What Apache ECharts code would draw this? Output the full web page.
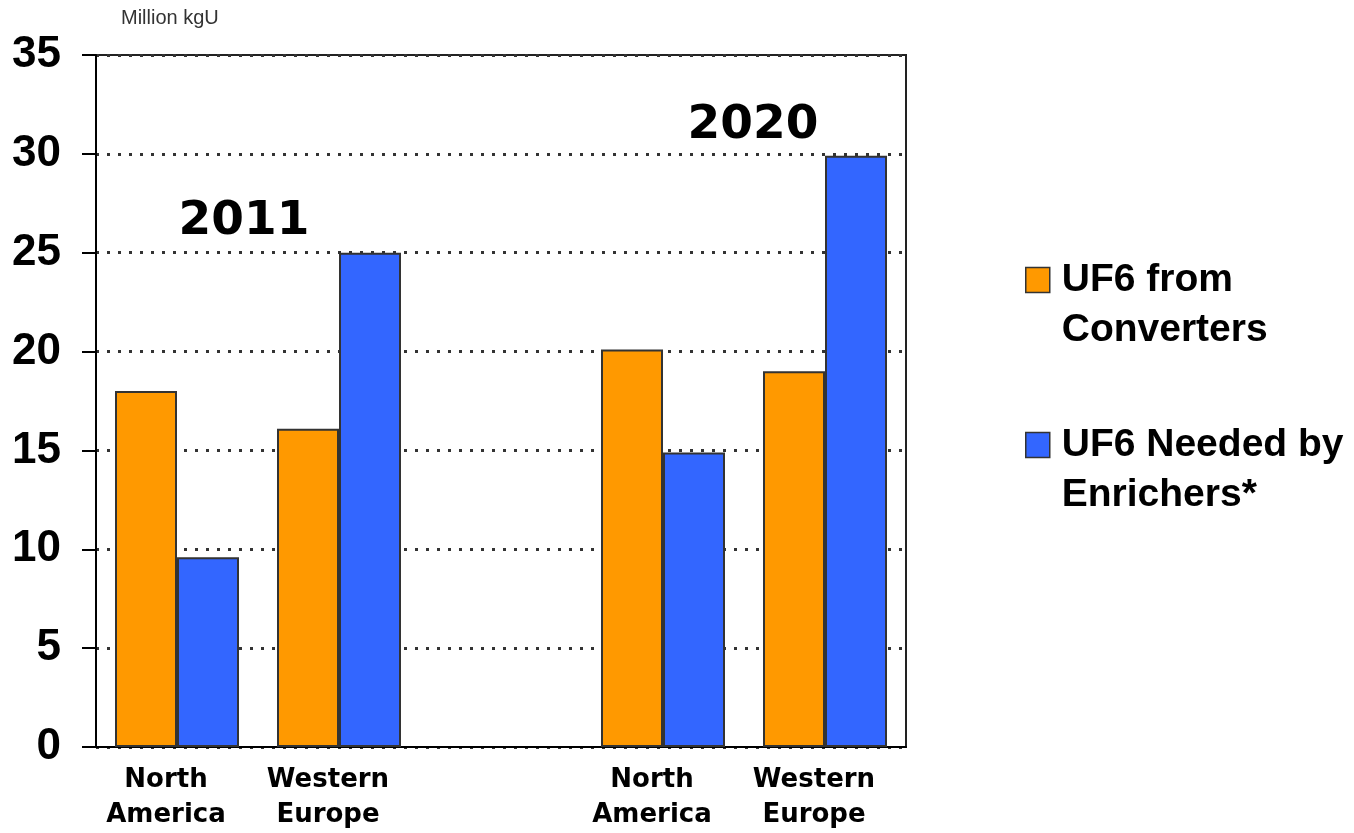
<!DOCTYPE html>
<html>
<head>
<meta charset="utf-8">
<script src="https://cdn.jsdelivr.net/npm/echarts@6/dist/echarts.min.js"></script>
<style>
html,body{margin:0;padding:0;background:#fff;}
#chart{width:1354px;height:833px;}
</style>
</head>
<body>
<div id="chart"></div>
<script>
var categories = ['NA-2011', 'WE-2011', 'gap', 'NA-2020', 'WE-2020'];
var tickLabels = ['North\nAmerica', 'Western\nEurope', '', 'North\nAmerica', 'Western\nEurope'];
var seriesNames = ['UF6 from\nConverters', 'UF6 Needed by\nEnrichers*'];
var convertersValues = [18.0, 16.1, '-', 20.1, 19.0];
var enrichersValues = [9.6, 25.0, '-', 14.9, 29.9];
var yearLabels = ['2011', '2020'];
var unitLabel = 'Million kgU';

var chart = echarts.init(document.getElementById('chart'), null, {renderer: 'canvas'});
var option = {
  animation: false,
  backgroundColor: '#ffffff',
  grid: {
    left: 96, right: 448, top: 55, bottom: 84,
    show: true, borderColor: '#222', borderWidth: 2, backgroundColor: 'transparent'
  },
  legend: {
    orient: 'vertical',
    left: 1020,
    top: 200,
    icon: 'rect',
    itemWidth: 24,
    itemHeight: 25,
    itemGap: 15,
    selectedMode: false,
    formatter: function (name) { return '\n' + name; },
    textStyle: {
      fontFamily: 'Liberation Sans, Arial, sans-serif',
      fontWeight: 'bold',
      fontSize: 39,
      lineHeight: 50,
      color: '#000',
      padding: [0, 0, 0, 7]
    },
    data: [
      {name: seriesNames[0], itemStyle: {color: '#FF9900', borderColor: '#333', borderWidth: 1.5}},
      {name: seriesNames[1], itemStyle: {color: '#3366FF', borderColor: '#333', borderWidth: 1.5}}
    ]
  },
  xAxis: {
    type: 'category',
    data: categories,
    axisLine: {lineStyle: {color: '#000', width: 2}},
    axisTick: {show: false},
    axisLabel: {
      interval: 0,
      margin: 16,
      fontFamily: 'DejaVu Sans, Verdana, sans-serif',
      fontWeight: 'bold',
      fontSize: 26,
      lineHeight: 35,
      color: '#000',
      padding: [0, 22, 0, 0],
      formatter: function (v, i) { return tickLabels[i]; }
    }
  },
  yAxis: {
    type: 'value',
    min: 0, max: 35, interval: 5,
    axisLine: {show: true, lineStyle: {color: '#000', width: 2}},
    axisTick: {show: true, length: 14, lineStyle: {color: '#000', width: 2}},
    axisLabel: {
      margin: 35,
      fontFamily: 'Liberation Sans, Arial, sans-serif',
      fontWeight: 'bold',
      fontSize: 44,
      color: '#000'
    },
    splitLine: {show: true, lineStyle: {color: '#333', width: 3, type: [3, 8]}}
  },
  series: [
    {
      name: seriesNames[0], type: 'bar', data: convertersValues,
      barWidth: 62, barGap: '0%',
      itemStyle: {color: '#FF9900', borderColor: '#333', borderWidth: 2}
    },
    {
      name: seriesNames[1], type: 'bar', data: enrichersValues,
      barWidth: 62, barGap: '0%',
      itemStyle: {color: '#3366FF', borderColor: '#333', borderWidth: 2}
    }
  ],
  graphic: [
    {type: 'text', left: 121, top: 8, style: {text: unitLabel, fontFamily: 'Liberation Sans, Arial, sans-serif', fontSize: 20, fill: '#333'}},
    {type: 'text', x: 244, y: 222, style: {text: yearLabels[0], align: 'center', verticalAlign: 'middle', fontFamily: 'DejaVu Sans, Verdana, sans-serif', fontWeight: 'bold', fontSize: 47, fill: '#000'}},
    {type: 'text', x: 753, y: 126, style: {text: yearLabels[1], align: 'center', verticalAlign: 'middle', fontFamily: 'DejaVu Sans, Verdana, sans-serif', fontWeight: 'bold', fontSize: 47, fill: '#000'}}
  ]
};
chart.setOption(option);
</script>
</body>
</html>
